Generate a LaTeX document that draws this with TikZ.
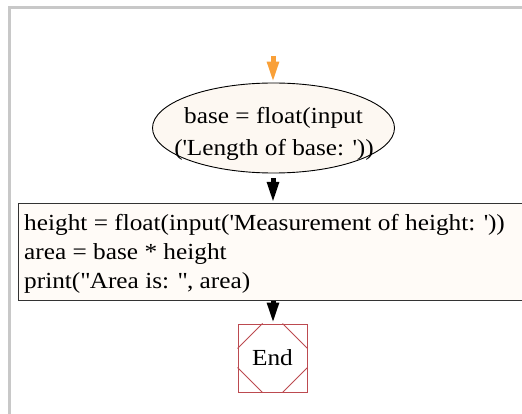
\documentclass[tikz,border=0pt]{standalone}
\usepackage{fontspec}
\setmainfont{Liberation Serif}[FakeStretch=1.1]
\usetikzlibrary{arrows.meta,shapes.geometric}
\definecolor{framegray}{HTML}{C8C8C8}
\definecolor{ellcream}{HTML}{FDF8F2}
\definecolor{boxcream}{HTML}{FFFBF7}
\definecolor{boxdraw}{HTML}{333333}
\definecolor{endred}{HTML}{BC4A50}
\definecolor{startorange}{HTML}{F9A038}
\tikzset{
  flowarrow/.style={-{Triangle[length=21pt,width=11pt]}, line width=5pt},
  codetext/.style={inner sep=0pt, font=\fontsize{23}{25}\selectfont},
}
\begin{document}
\begin{tikzpicture}[x=1pt,y=-1pt]
\useasboundingbox (0,0) rectangle (522,414);
\clip (0,0) rectangle (522,414);
\fill[white] (0,0) rectangle (522,414);
% outer frame
\draw[framegray, line width=3pt] (9.5,430) -- (9.5,8) -- (540,8);
% start point
\coordinate (start) at (273,56);
% ellipse
\node[ellipse, draw=black, fill=ellcream, line width=0.9pt, minimum width=242pt, minimum height=90pt, inner sep=0pt] (ell) at (273.5,128) {};
\node[codetext, anchor=base] (ellA) at (273.5,124) {base = float(input};
\node[codetext, anchor=base] (ellB) at (274,156) {(\textquotesingle Length of base: \textquotesingle))};
% process box
\node[draw=boxdraw, fill=boxcream, line width=1.3pt, minimum width=512pt, minimum height=97pt, inner sep=0pt, anchor=north west] (box) at (18,203) {};
\node[codetext, anchor=base west] (l1) at (24,231) {height = float(input(\textquotesingle Measurement of height: \textquotesingle))};
\node[codetext, anchor=base west] (l2) at (24,259) {area = base * height};
\node[codetext, anchor=base west] (l3) at (24,288) {print(\textquotedbl Area is: \textquotedbl, area)};
% end
\node[draw=endred, fill=white, line width=0.9pt, minimum width=69pt, minimum height=68pt, inner sep=0pt, font=\fontsize{23}{25}\selectfont] (end) at (272.5,358) {End};
\draw[endred, line width=0.9pt] ([xshift=25pt]end.north west) -- ([yshift=-25pt]end.north west);
\draw[endred, line width=0.9pt] ([xshift=-25pt]end.north east) -- ([yshift=-25pt]end.north east);
\draw[endred, line width=0.9pt] ([xshift=25pt]end.south west) -- ([yshift=25pt]end.south west);
\draw[endred, line width=0.9pt] ([xshift=-25pt]end.south east) -- ([yshift=25pt]end.south east);
% connectors
\draw[flowarrow, startorange] (start) -- (start |- ell.north);
\draw[flowarrow, black] ([yshift=-5pt]start |- ell.south) -- (start |- box.north);
\draw[flowarrow, black] (start |- box.south) -- (start |- end.north);
\end{tikzpicture}
\end{document}
